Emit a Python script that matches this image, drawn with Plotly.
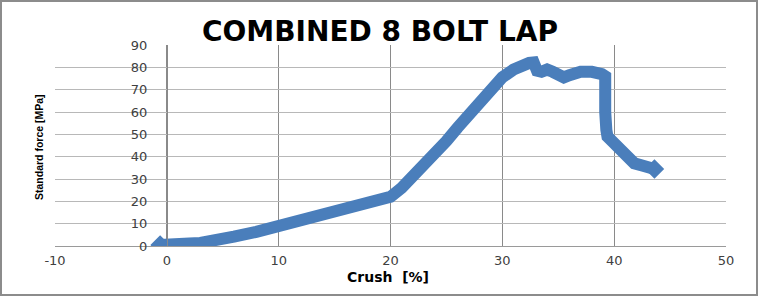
import plotly.graph_objects as go

# Data
crush_pct = [-0.6, 0, 1, 2, 3, 4, 5, 6, 8, 10, 12, 14, 16, 18, 19, 20, 21, 22, 23, 24,
             25, 26, 27, 28, 29, 30, 31, 31.5, 32.4, 32.8, 33.1, 33.5, 34, 34.5, 35,
             35.5, 36, 36.5, 37, 38, 38.5, 38.9, 39.2, 39.3, 39.2, 39.3, 39.4, 39.8,
             40.4, 41.0, 41.3, 41.8, 42.5, 43.1, 43.6]
std_force = [0.4, 0.8, 1.0, 1.1, 1.4, 1.9, 3.0, 4.2, 6.3, 8.7, 11.5, 14.0, 16.3, 18.3,
             19.6, 22, 26, 31, 36.5, 42, 47, 53, 59, 65, 70.5, 75.5, 79, 80.5, 82,
             82.2, 78.5, 78, 79, 78, 76.5, 75.5, 76.5, 77.8, 78, 78, 78, 77, 76, 70,
             60, 52, 49, 47, 44, 42, 40, 37, 36, 35.5, 34.5]

x_ticks = [-10, 0, 10, 20, 30, 40, 50]
y_ticks = [0, 10, 20, 30, 40, 50, 60, 70, 80, 90]

W, H = 760, 297
L, R, T, B = 55, 34, 45, 51
pw, ph = W - L - R, H - T - B

def px_x(p):
    return (p - L) / pw

def px_y(p):
    return (H - B - p) / ph

blue = "#4A7EBB"
fig = go.Figure()
fig.add_trace(go.Scatter(
    x=crush_pct, y=std_force, mode="lines",
    line=dict(color=blue, width=12),
    hoverinfo="skip", showlegend=False,
))
fig.add_trace(go.Scatter(
    x=[crush_pct[0], crush_pct[-1]], y=[std_force[0], std_force[-1]], mode="markers",
    marker=dict(symbol="diamond", size=15, color=blue, line=dict(width=0)),
    hoverinfo="skip", showlegend=False,
))

tick_font = dict(family="DejaVu Sans", size=13, color="#404040")

fig.update_layout(
    width=W, height=H,
    margin=dict(l=L, r=R, t=T, b=B),
    paper_bgcolor="white", plot_bgcolor="white",
    title=dict(text="COMBINED 8 BOLT LAP", x=0.5, xref="container", xanchor="center",
               y=1 - 31 / H, yanchor="middle",
               font=dict(family="DejaVu Sans", size=28, color="black", weight="bold")),
    xaxis=dict(range=[-10, 50], tickvals=x_ticks, ticktext=[str(v) for v in x_ticks],
               showgrid=True, gridcolor="#8a8a8a", gridwidth=1,
               zeroline=False, showline=True, linecolor="#9a9a9a", linewidth=1,
               ticks="", tickfont=tick_font, ticklabelstandoff=2, fixedrange=True),
    yaxis=dict(range=[0, 90], tickvals=y_ticks, ticktext=[str(v) for v in y_ticks],
               showgrid=True, gridcolor="#b8b8b8", gridwidth=1,
               zeroline=False, showline=True, linecolor="#8a8a8a", linewidth=1,
               anchor="free", position=px_x(167),
               ticks="", tickfont=tick_font, ticklabelstandoff=17, fixedrange=True),
    annotations=[
        dict(text="Standard force [MPa]", textangle=-90, x=px_x(39), y=px_y(147),
             xref="paper", yref="paper", showarrow=False, xanchor="center", yanchor="middle",
             font=dict(family="Liberation Sans", size=10.5, color="black", weight="bold")),
        dict(text="Crush  [%]", x=px_x(388), y=px_y(277),
             xref="paper", yref="paper", showarrow=False, xanchor="center", yanchor="middle",
             font=dict(family="DejaVu Sans", size=14, color="black", weight="bold")),
    ],
    shapes=[
        dict(type="rect", xref="paper", yref="paper",
             x0=px_x(1), x1=px_x(757), y0=px_y(1), y1=px_y(295),
             line=dict(color="#8c8c8c", width=2), fillcolor="rgba(0,0,0,0)", layer="above"),
    ],
)

fig.write_html("out.html")
